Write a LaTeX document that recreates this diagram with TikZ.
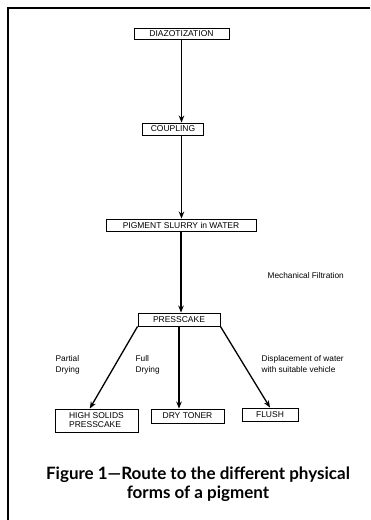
\documentclass[tikz,border=0pt]{standalone}
\usepackage{fontspec}
\setmainfont{Liberation Sans}
\newfontfamily\capfont{Lato}
\usetikzlibrary{arrows.meta,calc}
\begin{document}
\begin{tikzpicture}
  [x=1pt,y=-1pt,line width=1.3pt,
   box/.style={draw,line width=0.9pt,inner sep=0pt,font=\fontsize{8.5}{9}\selectfont},
   lbl/.style={anchor=north west,align=left,inner sep=0pt,font=\fontsize{8.3}{11}\selectfont},
   flow/.style={-{Stealth[length=7pt,width=5.5pt]}}]
  \useasboundingbox (0,0) rectangle (370,520);
  \draw[line width=1.4pt] (370,8) -- (8,8) -- (8,520);

  \node[box,minimum width=95pt,minimum height=11pt] (diazo) at (181.5,33.5) {DIAZOTIZATION};
  \node[box,minimum width=61pt,minimum height=12pt] (coupling) at (173,129) {COUPLING};
  \node[box,minimum width=150pt,minimum height=12pt] (slurry) at (181,225) {PIGMENT SLURRY in WATER};
  \node[box,minimum width=82pt,minimum height=13pt] (presscake) at (179,319.5) {PRESSCAKE};
  \node[box,minimum width=83pt,minimum height=23pt,align=left] (highsolids) at (96.5,420.5) {HIGH SOLIDS\\PRESSCAKE};
  \node[box,minimum width=73pt,minimum height=14pt] (drytoner) at (187.5,416) {DRY TONER};
  \node[box,minimum width=56pt,minimum height=13pt] (flush) at (270,414.5) {FLUSH};

  \node[lbl,anchor=west] (filtration) at (267,276) {Mechanical Filtration};
  \node[lbl] (partial) at (55,355) {Partial\\Drying};
  \node[lbl] (full) at (135,355) {Full\\Drying};
  \node[lbl] (displacement) at (261,355) {Displacement of water\\with suitable vehicle};

  \node[align=center,inner sep=0pt,font=\capfont\bfseries\fontsize{17}{18.5}\selectfont] (caption) at (198,484)
    {Figure 1—Route to the different physical\\forms of a pigment};

  \draw[flow] (diazo.south) -- (diazo.south |- coupling.north);
  \draw[flow] (diazo.south |- coupling.south) -- (diazo.south |- slurry.north);
  \draw[flow] (slurry.south) -- (slurry.south |- presscake.north);
  \draw[flow] (presscake.south west) -- ($(highsolids.north west)!0.42!(highsolids.north east)$);
  \draw[flow] (presscake.south) -- (presscake.south |- drytoner.north);
  \draw[flow] (presscake.south east) -- (flush.north);

\end{tikzpicture}
\end{document}
